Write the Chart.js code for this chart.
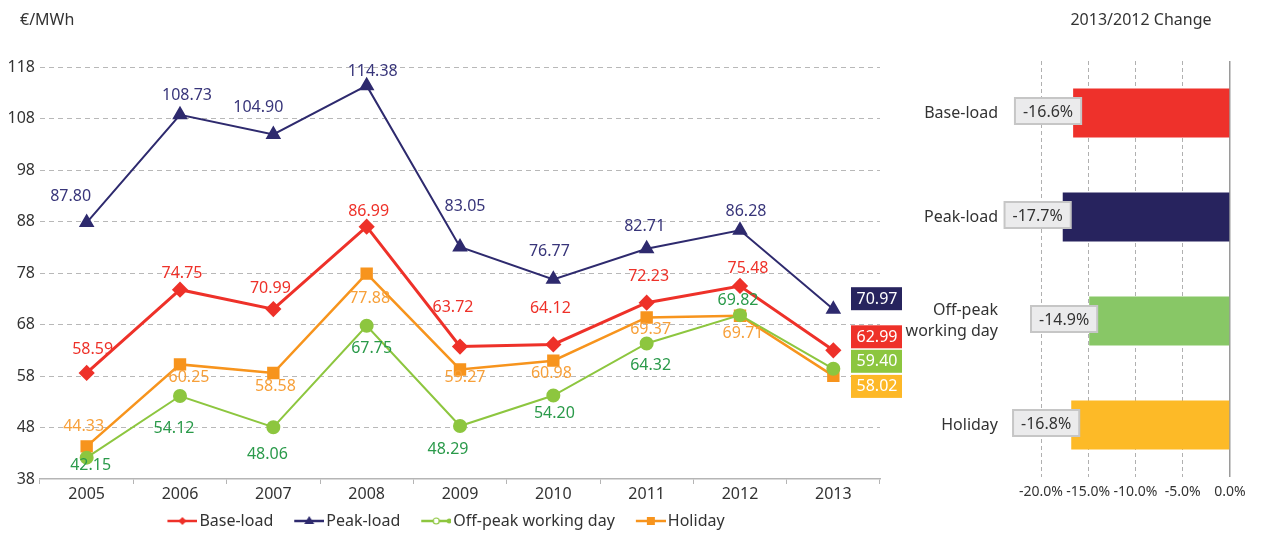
<!DOCTYPE html>
<html>
<head>
<meta charset="utf-8">
<script src="https://cdn.jsdelivr.net/npm/chart.js@4/dist/chart.umd.min.js"></script>
<style>
  body { margin: 0; background: #fff; width: 1261px; height: 533px; overflow: hidden; position: relative; }
  #boxLinha { position: absolute; left: 0; top: 0; width: 905px; height: 533px; }
  #boxBarra { position: absolute; left: 905px; top: 0; width: 356px; height: 533px; }
</style>
</head>
<body>
<div id="boxLinha"><canvas id="graficoLinha"></canvas></div>
<div id="boxBarra"><canvas id="graficoBarra"></canvas></div>
<script>
    // Dados do gráfico de linhas (€/MWh)
    const anos = ['2005', '2006', '2007', '2008', '2009', '2010', '2011', '2012', '2013'];
    const baseLoad = [58.59, 74.75, 70.99, 86.99, 63.72, 64.12, 72.23, 75.48, 62.99];
    const peakLoad = [87.80, 108.73, 104.90, 114.38, 83.05, 76.77, 82.71, 86.28, 70.97];
    const offPeak = [42.15, 54.12, 48.06, 67.75, 48.29, 54.20, 64.32, 69.82, 59.40];
    const holiday = [44.33, 60.25, 58.58, 77.88, 59.27, 60.98, 69.37, 69.71, 58.02];
    const yTicks = [38, 48, 58, 68, 78, 88, 98, 108, 118];

    // Dados do gráfico de barras (variação 2013/2012)
    const categorias = ['Base-load', 'Peak-load', ['Off-peak', 'working day'], 'Holiday'];
    const variacao = [-16.6, -17.7, -14.9, -16.8];
    const xTicksPct = [-20, -15, -10, -5, 0];

    const fonte = '"Noto Sans", sans-serif';
    const corTexto = '#333333';
    Chart.defaults.font.family = fonte;
    Chart.defaults.animation = false;

    // posição dos rótulos em relação ao ponto (dx, dy)
    const deslocRotulos = [
        [[6, -24], [2, -16], [-3, -21], [2, -15], [-7, -39], [-3, -36], [2, -26], [8, -18]],
        [[-16, -26], [7, -19], [-15, -27], [6, -14], [5, -41], [-4, -28], [-2, -22], [6, -19]],
        [[4, 8], [-6, 32], [-6, 27], [5, 23], [-12, 23], [1, 18], [4, 22], [-2, -15]],
        [[-3, -20], [9, 13], [2, 13], [3, 25], [5, 8], [-2, 13], [4, 12], [3, 18]]
    ];
    const corRotulo = ['#EE3129', '#38357A', '#2A9A4A', '#F7A03A'];
    const corCaixa = ['#EE3129', '#27245E', '#8CC63F', '#FDB827'];
    const caixaDy = [-14, -11, -8, 10];

    // ícone da legenda: linha com marcador
    function iconeLegenda(cor, marcador) {
        const c = document.createElement('canvas');
        c.width = 48; c.height = 14;
        const g = c.getContext('2d');
        g.strokeStyle = cor; g.fillStyle = cor; g.lineWidth = 2.5;
        g.beginPath(); g.moveTo(18, 7); g.lineTo(48, 7); g.stroke();
        const cx = 33, cy = 7;
        g.beginPath();
        if (marcador === 'diamond') {
            g.moveTo(cx, cy - 4); g.lineTo(cx + 4, cy); g.lineTo(cx, cy + 4); g.lineTo(cx - 4, cy); g.closePath(); g.fill();
        } else if (marcador === 'triangle') {
            g.moveTo(cx, cy - 5); g.lineTo(cx + 5, cy + 3); g.lineTo(cx - 5, cy + 3); g.closePath(); g.fill();
        } else if (marcador === 'circle') {
            g.fillStyle = '#fff'; g.lineWidth = 1.2;
            g.arc(cx, cy, 3, 0, Math.PI * 2); g.fill(); g.stroke();
            g.beginPath(); g.fillStyle = cor; g.arc(46, cy, 2.5, 0, Math.PI * 2); g.fill();
        } else {
            g.fillRect(cx - 4, cy - 4, 8, 8);
        }
        return c;
    }

    const rotulosLinha = {
        id: 'rotulosLinha',
        afterDraw(chart) {
            const ctx = chart.ctx;
            ctx.save();
            ctx.font = '16px ' + fonte;
            ctx.textAlign = 'left';
            ctx.textBaseline = 'middle';
            ctx.fillStyle = corTexto;
            ctx.fillText('€/MWh', 20, 20);
            ctx.textAlign = 'center';
            chart.data.datasets.forEach((ds, i) => {
                const meta = chart.getDatasetMeta(i);
                meta.data.forEach((pt, j) => {
                    const txt = ds.data[j].toFixed(2);
                    if (j === ds.data.length - 1) {
                        const bx = chart.chartArea.right - 4;
                        const by = pt.y + caixaDy[i];
                        ctx.fillStyle = corCaixa[i];
                        ctx.fillRect(bx - 25, by - 11, 51, 23);
                        ctx.fillStyle = '#ffffff';
                        ctx.fillText(txt, bx + 1, by + 1);
                    } else {
                        const d = deslocRotulos[i][j];
                        ctx.fillStyle = corRotulo[i];
                        ctx.fillText(txt, pt.x + d[0], pt.y + d[1]);
                    }
                });
            });
            ctx.restore();
        }
    };

    const dataLinha = {
        labels: anos,
        datasets: [
            { label: 'Base-load', data: baseLoad, borderColor: '#EE3129', backgroundColor: '#EE3129',
              borderWidth: 3, pointStyle: 'rectRot', pointRadius: 6, marcador: 'diamond' },
            { label: 'Peak-load', data: peakLoad, borderColor: '#2E2A6E', backgroundColor: '#2E2A6E',
              borderWidth: 2, pointStyle: 'triangle', pointRadius: 7, marcador: 'triangle' },
            { label: 'Off-peak working day', data: offPeak, borderColor: '#8DC63F', backgroundColor: '#8DC63F',
              borderWidth: 2, pointStyle: 'circle', pointRadius: 6, marcador: 'circle' },
            { label: 'Holiday', data: holiday, borderColor: '#F7941D', backgroundColor: '#F7941D',
              borderWidth: 2.5, pointStyle: 'rect', pointRadius: 7, marcador: 'square' }
        ]
    };

    const configLinha = {
        type: 'line',
        data: dataLinha,
        options: {
            responsive: true,
            maintainAspectRatio: false,
            layout: { padding: { top: 67, right: 25, bottom: -6, left: 0 } },
            scales: {
                x: {
                    offset: true,
                    grid: { offset: true, drawOnChartArea: false, drawTicks: true, tickLength: 5, color: '#b5b5b5' },
                    border: { color: '#b5b5b5', width: 1.5 },
                    ticks: { font: { size: 16 }, color: corTexto, padding: 1 },
                    afterFit: s => { s.height = 25; }
                },
                y: {
                    min: 38,
                    max: 118,
                    afterBuildTicks: s => { s.ticks = yTicks.map(v => ({ value: v })); },
                    grid: { color: c => (c.tick && c.tick.value === 38) ? 'rgba(0,0,0,0)' : '#b8b8b8', drawTicks: false },
                    border: { display: false, dash: [5, 4] },
                    ticks: { font: { size: 16 }, color: corTexto, padding: 5 },
                    afterFit: s => { s.width = 40; }
                }
            },
            plugins: {
                tooltip: { enabled: false },
                legend: {
                    position: 'bottom',
                    labels: {
                        usePointStyle: true,
                        pointStyleWidth: 36,
                        padding: 9,
                        color: corTexto,
                        font: { size: 16 },
                        generateLabels: chart => chart.data.datasets.map((ds, i) => ({
                            text: ds.label,
                            pointStyle: iconeLegenda(ds.borderColor, ds.marcador),
                            fillStyle: 'rgba(0,0,0,0)',
                            strokeStyle: 'rgba(0,0,0,0)',
                            lineWidth: 0,
                            fontColor: corTexto,
                            hidden: false,
                            datasetIndex: i
                        }))
                    }
                }
            }
        },
        plugins: [rotulosLinha]
    };
    const graficoLinha = new Chart(document.getElementById('graficoLinha').getContext('2d'), configLinha);

    // Gráfico de barras horizontais
    const rotulosBarra = {
        id: 'rotulosBarra',
        afterDraw(chart) {
            const ctx = chart.ctx;
            ctx.save();
            ctx.font = '16px ' + fonte;
            ctx.textAlign = 'center';
            ctx.textBaseline = 'middle';
            ctx.fillStyle = corTexto;
            ctx.fillText('2013/2012 Change', 236, 20);
            chart.getDatasetMeta(0).data.forEach((bar, i) => {
                const txt = variacao[i].toFixed(1) + '%';
                const w = ctx.measureText(txt).width + 16, h = 26;
                const right = bar.x + 8, cy = bar.y - 2;
                ctx.fillStyle = '#EBEBEC';
                ctx.strokeStyle = '#C6C6C6';
                ctx.lineWidth = 2;
                ctx.fillRect(right - w, cy - h / 2, w, h);
                ctx.strokeRect(right - w, cy - h / 2, w, h);
                ctx.fillStyle = corTexto;
                ctx.fillText(txt, right - w / 2, cy + 1);
            });
            ctx.restore();
        }
    };

    const configBarra = {
        type: 'bar',
        data: {
            labels: categorias,
            datasets: [{
                data: variacao,
                backgroundColor: ['#EE312B', '#27235E', '#88C766', '#FDBA27'],
                barPercentage: 0.47,
                categoryPercentage: 1
            }]
        },
        options: {
            indexAxis: 'y',
            responsive: true,
            maintainAspectRatio: false,
            layout: { padding: { top: 61, right: 31, bottom: 26, left: 0 } },
            scales: {
                x: {
                    min: -20,
                    max: 0,
                    afterBuildTicks: s => { s.ticks = xTicksPct.map(v => ({ value: v })); },
                    grid: {
                        drawTicks: false,
                        color: c => (c.tick && c.tick.value === 0) ? '#9a9a9a' : '#b0b0b0',
                        lineWidth: c => (c.tick && c.tick.value === 0) ? 1.5 : 1
                    },
                    border: { display: false, dash: c => (c.tick && c.tick.value === 0) ? [] : [4, 3] },
                    ticks: {
                        font: { size: 14 },
                        color: corTexto,
                        padding: 7,
                        autoSkip: false,
                        maxRotation: 0,
                        callback: v => v.toFixed(1) + '%'
                    },
                    afterFit: s => { s.height = 30; }
                },
                y: {
                    grid: { display: false, drawTicks: false },
                    border: { display: false },
                    ticks: { font: { size: 16, lineHeight: 1.35 }, color: corTexto, padding: 43 },
                    afterFit: s => { s.width = 136; }
                }
            },
            plugins: {
                legend: { display: false },
                tooltip: { enabled: false }
            }
        },
        plugins: [rotulosBarra]
    };
    const graficoBarra = new Chart(document.getElementById('graficoBarra').getContext('2d'), configBarra);
</script>
</body>
</html>
